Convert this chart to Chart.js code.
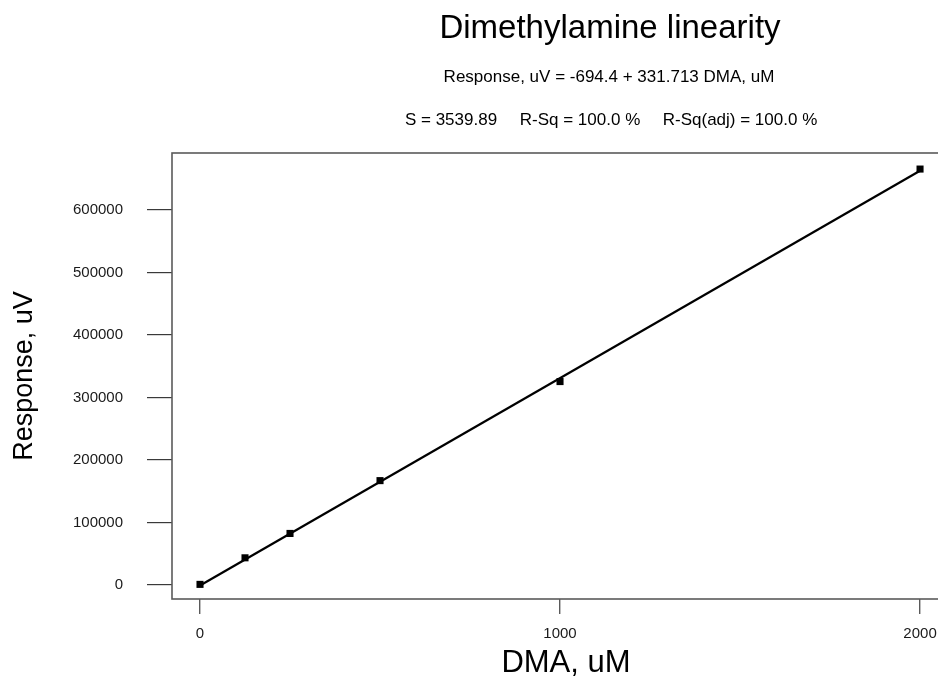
<!DOCTYPE html>
<html>
<head>
<meta charset="utf-8">
<script src="https://cdn.jsdelivr.net/npm/chart.js@4/dist/chart.umd.min.js"></script>
<style>
html,body{margin:0;padding:0;background:#fff;overflow:hidden}
#wrap{position:relative;width:938px;height:677px;overflow:hidden}
</style>
</head>
<body>
<div id="wrap"><canvas id="c" width="1000" height="677"></canvas></div>
<script>
// ---- data ----
const concentrations = [0, 125, 250, 500, 1000, 2000];          // DMA, uM
const responses      = [1000, 43500, 82500, 167000, 325500, 665500]; // Response, uV
const fitX = [0, 2000];                 // fitted line ends
const fitY = [-694.4, 662731.6];        // from Response = -694.4 + 331.713 DMA
const xTicks = [0, 1000, 2000];
const yTicks = [0, 100000, 200000, 300000, 400000, 500000, 600000];
const titleText = 'Dimethylamine linearity';
const equationText = 'Response, uV = -694.4 + 331.713 DMA, uM';
const statsTexts = ['S = 3539.89', 'R-Sq = 100.0 %', 'R-Sq(adj) = 100.0 %'];
const xTitle = 'DMA, uM';
const yTitle = 'Response, uV';

const FONT = "'Liberation Sans', Arial, sans-serif";

const framePlugin = {
  id: 'frame',
  beforeDatasetsDraw(chart) {
    const {ctx, chartArea: a} = chart;
    ctx.save();
    ctx.strokeStyle = '#5a5a5a';
    ctx.lineWidth = 1.6;
    ctx.strokeRect(a.left, a.top, a.right - a.left, a.bottom - a.top);
    ctx.restore();
  }
};

const headerPlugin = {
  id: 'header',
  afterDraw(chart) {
    const ctx = chart.ctx;
    ctx.save();
    ctx.fillStyle = '#000';
    ctx.textAlign = 'center';
    ctx.textBaseline = 'middle';
    ctx.font = '33px ' + FONT;
    ctx.fillText(titleText, 610, 29);
    ctx.font = '17px ' + FONT;
    ctx.fillText(equationText, 609, 77);
    const centers = [451, 580, 740];
    statsTexts.forEach((t, i) => ctx.fillText(t, centers[i], 120));
    ctx.restore();
  }
};

new Chart(document.getElementById('c'), {
  type: 'scatter',
  data: {
    datasets: [
      {
        label: 'fit',
        data: fitX.map((x, i) => ({x, y: fitY[i]})),
        showLine: true,
        borderColor: '#000',
        borderWidth: 2.2,
        pointRadius: 0,
        fill: false,
        order: 2
      },
      {
        label: 'observed',
        data: concentrations.map((x, i) => ({x, y: responses[i]})),
        showLine: false,
        pointStyle: 'rect',
        pointRadius: 5,
        backgroundColor: '#000',
        borderColor: '#000',
        borderWidth: 0,
        order: 1
      }
    ]
  },
  options: {
    responsive: false,
    animation: false,
    devicePixelRatio: 1,
    layout: {padding: {top: 153, right: 40, left: 0, bottom: 0}},
    plugins: {legend: {display: false}, tooltip: {enabled: false}, title: {display: false}},
    scales: {
      x: {
        type: 'linear',
        position: 'bottom',
        min: -77.8,
        max: 2111,
        afterBuildTicks: s => { s.ticks = xTicks.map(v => ({value: v})); },
        afterFit: s => { s.height = 78; },
        grid: {drawOnChartArea: false, drawTicks: true, tickLength: 15, color: '#5a5a5a', lineWidth: 1.4},
        border: {display: false},
        ticks: {font: {family: FONT, size: 15}, color: '#1a1a1a', padding: 11, maxRotation: 0, autoSkip: false,
                callback: v => String(v)},
        title: {display: true, text: xTitle, color: '#000', font: {family: FONT, size: 31, lineHeight: 1}, padding: {top: 0, bottom: -2}}
      },
      y: {
        type: 'linear',
        position: 'left',
        min: -22400,
        max: 691200,
        afterBuildTicks: s => { s.ticks = yTicks.map(v => ({value: v})); },
        afterFit: s => { s.width = 172; },
        grid: {drawOnChartArea: false, drawTicks: true, tickLength: 25, color: '#3a3a3a', lineWidth: 1.2},
        border: {display: false},
        ticks: {font: {family: FONT, size: 15}, color: '#1a1a1a', padding: 24, autoSkip: false,
                callback: v => String(v)},
        title: {display: true, text: yTitle, color: '#000', font: {family: FONT, size: 27, lineHeight: 1}, padding: {top: 11, bottom: 0}}
      }
    }
  },
  plugins: [framePlugin, headerPlugin]
});
</script>
</body>
</html>
